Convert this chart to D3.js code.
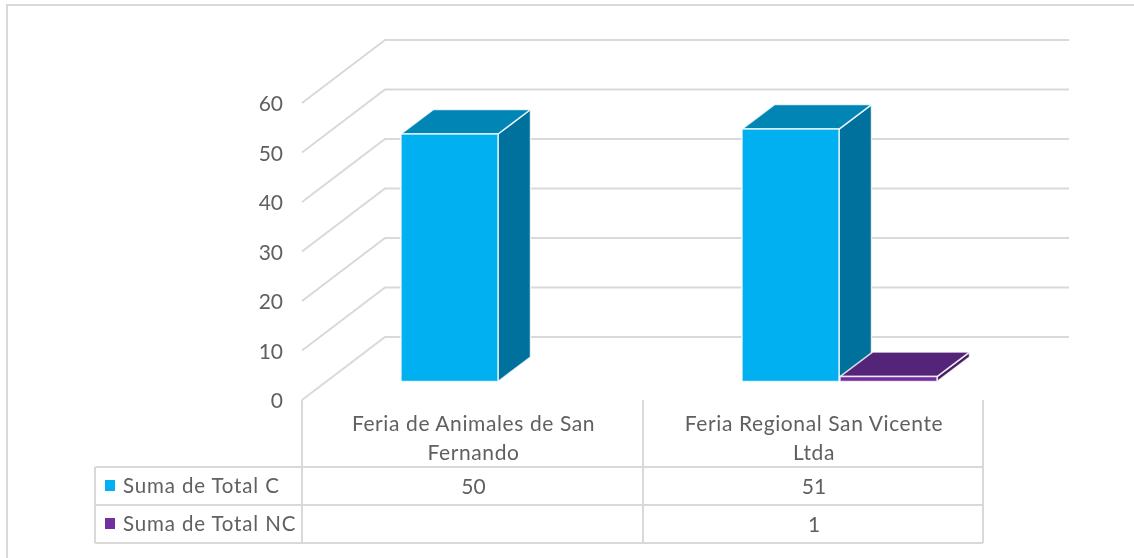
<!DOCTYPE html>
<html><head><meta charset="utf-8">
<script src="https://cdn.jsdelivr.net/npm/d3@7"></script>
<style>html,body{margin:0;background:#fff}svg{display:block;filter:blur(.45px)}text{font-family:Lato,sans-serif;fill:#606060}</style>
</head><body><div id="c"></div>
<script>
const categories = ["Feria de Animales de San Fernando", "Feria Regional San Vicente Ltda"];
const categoryLines = [["Feria de Animales de San", "Fernando"], ["Feria Regional San Vicente", "Ltda"]];
const seriesNames = ["Suma de Total C", "Suma de Total NC"];
const totalC = [50, 51];
const totalNC = [null, 1];
const yTicks = [0, 10, 20, 30, 40, 50, 60];
const seriesValues = [totalC, totalNC];
const front = ["#00B0F0", "#7030A0"], top_ = ["#0085B5", "#542478"], side = ["#00719C", "#481F67"];

const W = 1134, H = 558;
const svg = d3.select("#c").append("svg").attr("width", W).attr("height", H);
// frame: top and left edges only
svg.append("path").attr("d", "M7,558V5H1134").attr("fill", "none").attr("stroke", "#d9d9d9").attr("stroke-width", 2);

const y = d3.scaleLinear().domain([0, 60]).range([400, 103]);
const dx = 83, dy = -63;
const xCat = d3.scaleBand().domain(categories).range([302, 984]);
const barDx = 32.5, barDy = -24.5, barBase = 381.5;
const yBar = d3.scaleLinear().domain([0, 60]).range([barBase, barBase - 297]);
const grid = "#d9d9d9";

// gridlines
const g = svg.append("g");
g.selectAll("path").data(yTicks).join("path")
  .attr("d", t => `M302,${y(t)}L${302 + dx},${y(t) + dy}H1069`)
  .attr("fill", "none").attr("stroke", grid).attr("stroke-width", 2);
g.selectAll("text").data(yTicks).join("text")
  .attr("x", 283).attr("y", t => y(t) + 8).attr("text-anchor", "end")
  .attr("font-size", 21).text(t => t);

// bars
const barW = 97;
const barX = (ci, si) => xCat(categories[ci]) + 99 + si * (barW + 1);
seriesValues.forEach((vals, si) => vals.forEach((v, ci) => {
  if (v == null) return;
  const x0 = barX(ci, si), x1 = x0 + barW, yt = yBar(v), yb = barBase;
  const b = svg.append("g").attr("stroke", "#fff").attr("stroke-opacity", .8).attr("stroke-width", 1.5).attr("stroke-linejoin", "round");
  b.append("path").attr("fill", side[si]).attr("d", `M${x1},${yt}L${x1 + barDx},${yt + barDy}V${yb + barDy}L${x1},${yb}Z`);
  b.append("path").attr("fill", top_[si]).attr("d", `M${x0},${yt}L${x0 + barDx},${yt + barDy}H${x1 + barDx}L${x1},${yt}Z`);
  b.append("rect").attr("fill", front[si]).attr("x", x0).attr("y", yt).attr("width", barW).attr("height", yb - yt);
}));

// data table
const rows = [467, 505, 543], tableLeft = 95;
const colX = [302, 643, 983];
const t = svg.append("g").attr("stroke", grid).attr("stroke-width", 2).attr("fill", "none");
rows.forEach(r => t.append("line").attr("x1", tableLeft).attr("x2", 983).attr("y1", r).attr("y2", r));
t.append("line").attr("x1", tableLeft).attr("x2", tableLeft).attr("y1", 467).attr("y2", 543);
colX.forEach(c => t.append("line").attr("x1", c).attr("x2", c).attr("y1", 400).attr("y2", 543));

categoryLines.forEach((ls, i) => ls.forEach((s, j) => {
  svg.append("text").attr("x", (colX[i] + colX[i + 1]) / 2 + 1).attr("y", 431 + j * 29)
    .attr("text-anchor", "middle").attr("font-size", 21).attr("letter-spacing", .6).text(s);
}));
seriesNames.forEach((s, i) => {
  const cy = (rows[i] + rows[i + 1]) / 2;
  svg.append("rect").attr("x", 105).attr("y", cy - 6).attr("width", 10).attr("height", 11).attr("fill", front[i]);
  svg.append("text").attr("x", 123).attr("y", cy + 6.5).attr("font-size", 20.5).attr("letter-spacing", .85).text(s);
  seriesValues[i].forEach((v, ci) => {
    if (v == null) return;
    svg.append("text").attr("x", (colX[ci] + colX[ci + 1]) / 2 + 1).attr("y", cy + 7.5)
      .attr("text-anchor", "middle").attr("font-size", 21).text(v);
  });
});
</script></body></html>
